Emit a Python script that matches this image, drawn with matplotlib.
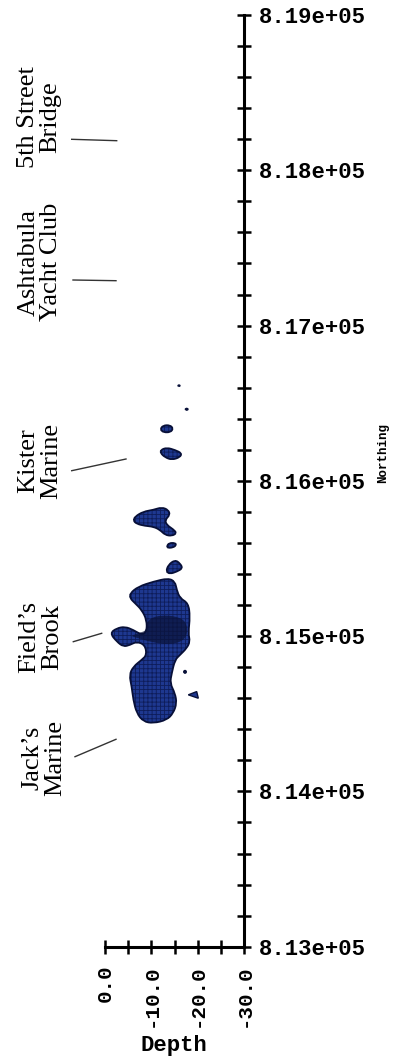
import matplotlib.pyplot as plt
import numpy as np
from matplotlib.path import Path
from matplotlib.patches import PathPatch, Polygon
from matplotlib.lines import Line2D

# ---- axis values
depth_ticks = [0, -10, -20, -30]
depth_minor = [0, -5, -10, -15, -20, -25, -30]
north_ticks = [813000, 814000, 815000, 816000, 817000, 818000, 819000]
north_minor = list(range(813000, 819001, 200))

# ---- contaminant isosurface outlines, (depth, northing)
main_depth = [-5.40, -7.19, -10.43, -13.66, -15.11, -15.48, -16.19, -17.98, -18.35, -17.98, -18.35,
              -17.63, -16.19, -15.11, -14.40, -14.03, -15.11, -15.48, -14.74, -13.32, -10.43, -8.27,
              -6.84, -6.11, -5.76, -5.24, -6.11, -7.92, -9.00, -8.63, -6.84, -5.40, -3.95, -2.53,
              -1.08, -2.53, -4.32, -6.11, -7.92, -9.00, -9.00, -7.92, -6.48, -5.40]
main_north = [815276, 815319, 815351, 815373, 815351, 815298, 815244, 815212, 815126, 815019, 814965,
              814922, 814879, 814847, 814761, 814697, 814632, 814568, 814504, 814460, 814439, 814450,
              814504, 814589, 814675, 814750, 814804, 814847, 814879, 814943, 814965, 814943, 814932,
              814965, 815019, 815051, 815061, 815040, 815008, 815029, 815104, 815169, 815212, 815244]

core_depth = [-9.07, -11.87, -16.19, -17.91, -17.48, -14.03, -9.71, -7.12, -5.40, -7.55, -9.07]
core_north = [815104, 815137, 815124, 815072, 814976, 814943, 814963, 814988, 815001, 815021, 815040]

kister_depth = [-6.48, -8.27, -10.43, -12.24, -13.66, -14.03, -12.95, -13.32, -14.74, -15.48, -14.40,
                -12.95, -11.87, -10.43, -8.63, -6.84, -6.11]
kister_north = [815770, 815802, 815813, 815830, 815813, 815781, 815748, 815716, 815688, 815663, 815645,
                815652, 815684, 815705, 815710, 815723, 815744]

b1_depth = [-15.75, -15.97, -16.19, -15.97]
b1_north = [816613, 816617, 816613, 816609]
b2_depth = [-17.31, -17.63, -17.95, -17.63]
b2_north = [816461, 816467, 816461, 816455]
b3_depth = [-11.91, -12.52, -14.03, -14.72, -14.14, -12.63]
b3_north = [816331, 816357, 816359, 816337, 816313, 816312]
b4_depth = [-12.02, -13.32, -15.11, -16.56, -16.19, -14.40, -12.95, -12.02]
b4_north = [816199, 816214, 816199, 816178, 816152, 816135, 816152, 816178]
b6_depth = [-13.34, -13.81, -15.22, -15.32, -14.68, -13.60]
b6_north = [815578, 815600, 815600, 815584, 815571, 815568]
b7_depth = [-13.17, -13.66, -15.11, -16.19, -16.77, -15.48, -14.03]
b7_north = [815415, 815459, 815491, 815469, 815437, 815415, 815401]
b8_depth = [-16.94, -17.27, -17.59, -17.27]
b8_north = [814770, 814780, 814770, 814760]
tri_depth = [-17.98, -19.79, -20.14]
tri_north = [814622, 814643, 814600]

# ---- site labels
sites = ["5th Street\nBridge", "Ashtabula\nYacht Club", "Kister\nMarine", "Field\u2019s\nBrook", "Jack\u2019s\nMarine"]

W, H = 395, 1062
FACE = '#1e3890'
HATCH = '#0e1d5a'
EDGE = '#081038'
MONO = 'Liberation Mono'

plt.rcParams['hatch.linewidth'] = 0.6


def blob_path(xs, ys):
    # smooth closed outline through the picked points
    pts = np.column_stack([xs, ys]).astype(float)
    mids = (pts + np.roll(pts, -1, axis=0)) / 2
    verts = [mids[-1]]
    codes = [Path.MOVETO]
    for p, m in zip(pts, mids):
        verts += [p, m]
        codes += [Path.CURVE3, Path.CURVE3]
    return Path(verts, codes)


fig = plt.figure(figsize=(W / 100, H / 100), dpi=100)
ax = fig.add_axes([105 / W, 115.3 / H, 139 / W, 931.7 / H])

blobs = [(main_depth, main_north), (kister_depth, kister_north), (b1_depth, b1_north),
         (b2_depth, b2_north), (b3_depth, b3_north), (b4_depth, b4_north),
         (b6_depth, b6_north), (b7_depth, b7_north), (b8_depth, b8_north)]
for xs, ys in blobs:
    path = blob_path(xs, ys)
    ax.add_patch(PathPatch(path, facecolor=FACE, edgecolor=HATCH, lw=0, hatch='++++', zorder=2))
    ax.add_patch(PathPatch(path, fill=False, edgecolor=EDGE, lw=1.3, zorder=3))

ax.add_patch(PathPatch(blob_path(core_depth, core_north), facecolor='#0a1238', alpha=0.7,
                       edgecolor='none', zorder=2.5))
ax.add_patch(Polygon(np.column_stack([tri_depth, tri_north]), closed=True, facecolor=FACE,
                     edgecolor=EDGE, lw=1, zorder=3))

ax.set_xlim(0, -30)
ax.set_ylim(813000, 819000)

for side in ['left', 'top']:
    ax.spines[side].set_visible(False)
for side in ['right', 'bottom']:
    ax.spines[side].set_linewidth(2.2)

ax.yaxis.tick_right()
ax.set_xticks(depth_minor, minor=True)
ax.set_yticks(north_minor, minor=True)
ax.set_xticks(depth_ticks, [f'{v:.1f}' for v in depth_ticks], rotation=90,
              fontfamily=MONO, fontweight='bold', fontsize=15)
ax.set_yticks(north_ticks, [f'{v:.2e}' for v in north_ticks],
              fontfamily=MONO, fontweight='bold', fontsize=16)
ax.tick_params(which='both', direction='inout', length=10, width=1.8, color='black')
ax.tick_params(axis='y', which='both', pad=6)
ax.tick_params(axis='x', which='both', pad=8)

ax.set_xlabel('Depth', fontfamily=MONO, fontweight='bold', fontsize=16, va='center')
ax.xaxis.set_label_coords((174 - 105) / 139, (946.7 - 1046) / 931.7)
ax.yaxis.set_label_position('right')
ax.set_ylabel('Northing', fontfamily=MONO, fontweight='bold', fontsize=9,
              rotation=90, rotation_mode='default', va='center', ha='center')
ax.yaxis.set_label_coords((383 - 105) / 139, (946.7 - 453) / 931.7)

# site names and leader lines (pixel positions)
text_xy = [(39, 117), (40, 262), (40, 461), (41, 637), (44, 758)]
leaders = [((71.7, 139.3), (116.7, 140.7)), ((73, 280), (116, 280.7)), ((71.7, 470.7), (126, 459)),
           ((73.3, 641.7), (101.7, 633.3)), ((75, 756.7), (116, 739.3))]
for name, (tx, ty), ((x1, y1), (x2, y2)) in zip(sites, text_xy, leaders):
    fig.text(tx / W, 1 - ty / H, name, rotation=90, ha='center', va='center',
             multialignment='center', fontfamily='Liberation Serif', fontsize=19, linespacing=1.05)
    fig.add_artist(Line2D([x1 / W, x2 / W], [1 - y1 / H, 1 - y2 / H], transform=fig.transFigure,
                          color='#333333', lw=1))

fig.savefig('out.png', dpi=100, facecolor='white')
